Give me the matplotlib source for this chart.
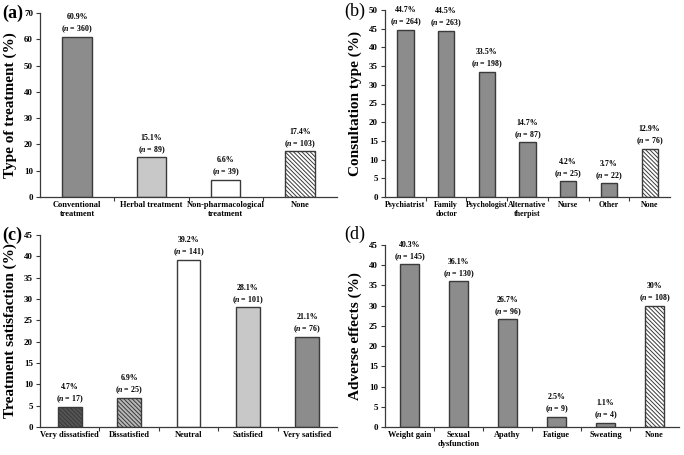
import numpy as np
import matplotlib
matplotlib.use("Agg")
import matplotlib.pyplot as plt

plt.rcParams['font.family'] = ['Liberation Serif', 'DejaVu Serif']
plt.rcParams['font.weight'] = 'bold'
plt.rcParams['axes.labelweight'] = 'bold'
plt.rcParams['mathtext.fontset'] = 'custom'
plt.rcParams['mathtext.it'] = 'Liberation Serif:italic:bold'
plt.rcParams['mathtext.rm'] = 'Liberation Serif:bold'
plt.rcParams['hatch.linewidth'] = 0.7

# (a) type of treatment
a_cats = ["Conventional\ntreatment", "Herbal treatment", "Non-pharmacological\ntreatment", "None"]
a_pct = [60.9, 15.1, 6.6, 17.4]
a_n = [360, 89, 39, 103]
a_lbl = ["60.9%", "15.1%", "6.6%", "17.4%"]

# (b) consultation type
b_cats = ["Psychiatrist", "Family\ndoctor", "Psychologist", "Alternative\ntherpist", "Nurse", "Other", "None"]
b_pct = [44.7, 44.5, 33.5, 14.7, 4.2, 3.7, 12.9]
b_n = [264, 263, 198, 87, 25, 22, 76]
b_lbl = ["44.7%", "44.5%", "33.5%", "14.7%", "4.2%", "3.7%", "12.9%"]

# (c) treatment satisfaction
c_cats = ["Very dissatisfied", "Dissatisfied", "Neutral", "Satisfied", "Very satisfied"]
c_pct = [4.7, 6.9, 39.2, 28.1, 21.1]
c_n = [17, 25, 141, 101, 76]
c_lbl = ["4.7%", "6.9%", "39.2%", "28.1%", "21.1%"]

# (d) adverse effects
d_cats = ["Weight gain", "Sexual\ndysfunction", "Apathy", "Fatigue", "Sweating", "None"]
d_pct = [40.3, 36.1, 26.7, 2.5, 1.1, 30]
d_n = [145, 130, 96, 9, 4, 108]
d_lbl = ["40.3%", "36.1%", "26.7%", "2.5%", "1.1%", "30%"]

dark = "#8c8c8c"
light = "#c8c8c8"
edge = "#3a3a3a"
hat = "\\" * 8


def panel(ax, cats, pct, n, lbl, colors, hatches, ylim, step, ylabel, letter, lw, lx, ly, catsize=6):
    x = np.arange(len(cats))
    for i in range(len(cats)):
        ax.bar(x[i], pct[i], width=0.4, color=colors[i], edgecolor=edge,
               linewidth=1.0, hatch=hatches[i], zorder=2)
        ax.text(x[i], pct[i] + ylim * 0.008, lbl[i] + "\n(" + r"$n$" + " = %d)" % n[i],
                ha="center", va="bottom", fontsize=5.7, linespacing=1.3)
    ax.set_xlim(-0.5, len(cats) - 0.5)
    ax.set_ylim(0, ylim)
    ax.set_yticks(np.arange(0, ylim + 0.1, step))
    ax.set_xticks(np.arange(len(cats) - 1) + 0.5, minor=False)
    ax.set_xticklabels([])
    ax.set_xticks(x, minor=True)
    ax.set_xticklabels(cats, minor=True, fontsize=catsize)
    ax.tick_params(axis="x", which="minor", length=0, pad=3)
    ax.tick_params(axis="x", which="major", length=3, width=0.8, color=edge)
    ax.tick_params(axis="y", length=3, width=0.8, color=edge, labelsize=6.5, pad=2)
    for s in ["top", "right"]:
        ax.spines[s].set_visible(False)
    for s in ["left", "bottom"]:
        ax.spines[s].set_color(edge)
        ax.spines[s].set_linewidth(0.9)
    ax.set_ylabel(ylabel, fontsize=11, fontweight="bold", labelpad=5)
    ax.figure.text(lx, ly, letter, fontsize=13, fontweight=lw, va="top", ha="left")


fig = plt.figure(figsize=(6.84, 4.55), dpi=100)

ax1 = fig.add_axes([40 / 684, 1 - 197 / 455, 297 / 684, 184 / 455])
panel(ax1, a_cats, a_pct, a_n, a_lbl, [dark, light, "white", "white"],
      [None, None, None, hat], 70, 10, "Type of treatment (%)", "(a)", "bold",
      2 / 684, 1 - 5 / 455)

ax2 = fig.add_axes([385 / 684, 1 - 197 / 455, 285 / 684, 187 / 455])
panel(ax2, b_cats, b_pct, b_n, b_lbl, [dark] * 6 + ["white"],
      [None] * 6 + [hat], 50, 5, "Consultation type (%)", "(b)", "normal",
      344 / 684, 1 - 3 / 455, catsize=5.7)

ax3 = fig.add_axes([40 / 684, 1 - 427 / 455, 297 / 684, 192 / 455])
panel(ax3, c_cats, c_pct, c_n, c_lbl, ["#555555", "#b8b8b8", "white", light, dark],
      [hat, hat, None, None, None], 45, 5, "Treatment satisfaction (%)", "(c)", "bold",
      2 / 684, 1 - 227 / 455)

ax4 = fig.add_axes([385 / 684, 1 - 427 / 455, 294 / 684, 182 / 455])
panel(ax4, d_cats, d_pct, d_n, d_lbl, [dark] * 5 + ["white"],
      [None] * 5 + [hat], 45, 5, "Adverse effects (%)", "(d)", "normal",
      344 / 684, 1 - 226 / 455)

fig.savefig("out.png", dpi=100)
